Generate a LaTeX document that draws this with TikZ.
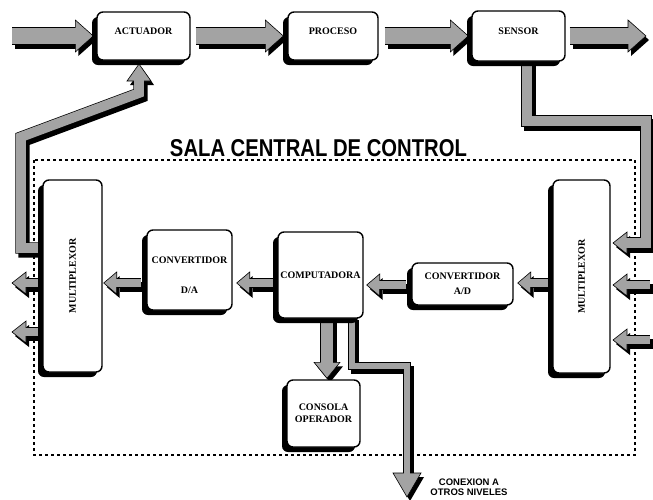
\documentclass[tikz,border=0pt]{standalone}
\usepackage{graphicx}
\usepackage{fontspec}
\setmainfont{Liberation Serif}
\setsansfont{Liberation Sans}
\usetikzlibrary{calc,shadows,backgrounds}

\definecolor{bandgray}{gray}{0.64}

\tikzset{
  box/.style={draw=black, line width=1.4pt, fill=white, rounded corners=6pt,
    font=\bfseries\fontsize{10}{12}\selectfont, align=center, inner sep=1pt,
    drop shadow={shadow xshift=-5pt, shadow yshift=-5pt, fill=black, opacity=1}},
  frame/.style={line width=1.6pt, dash pattern=on 3pt off 3pt},
  bandline/.style={line join=miter, line cap=butt},
}

% fat hatched arrow: #1 band half width, #2 head half width, #3 head length,
% #4 path up to the last bend, #5 name of that last point, #6 tip
\newcommand\fatarrow[6]{%
  \coordinate (fa-h) at ($(#6)!#3!(#5)$);
  \coordinate (fa-l) at ($(fa-h)!#2!90:(#6)$);
  \coordinate (fa-r) at ($(fa-h)!#2!-90:(#6)$);
  \coordinate (fa-g) at ($(fa-h)!0.8pt!(#6)$);
  \begin{scope}[transform canvas={shift={(3pt,-4pt)}}]
    \draw[bandline, line width=2*#1+1.2pt] #4 -- (fa-h);
    \fill (fa-l) -- (#6) -- (fa-r) -- cycle;
  \end{scope}
  \draw[bandline, line width=2*#1+1.2pt] #4 -- (fa-h);
  \filldraw[fill=bandgray, draw=black, line width=0.6pt, line join=miter]
    (fa-l) -- (#6) -- (fa-r) -- cycle;
  \draw[bandline, bandgray, line width=2*#1-0.2pt] #4 -- (fa-g);
}

\begin{document}
\begin{tikzpicture}[x=1pt,y=-1pt]
\useasboundingbox (0,0) rectangle (653,499);

% process line
\node[box, minimum width=93pt, minimum height=48pt] (actuador) at (143.5,36)
  {ACTUADOR\rule[-9pt]{0pt}{9pt}};
\node[box, minimum width=90pt, minimum height=48pt] (proceso) at (333,36)
  {PROCESO\rule[-9pt]{0pt}{9pt}};
\node[box, minimum width=93pt, minimum height=50pt] (sensor) at (518.5,36)
  {SENSOR\rule[-9pt]{0pt}{9pt}};

% control room
\node[box, minimum width=59pt, minimum height=192pt] (muxL) at (72.5,276)
  {\rotatebox{90}{MULTIPLEXOR}};
\node[box, minimum width=57pt, minimum height=193pt] (muxR) at (581.5,276.5)
  {\rotatebox{90}{MULTIPLEXOR}};
\node[box, minimum width=85pt, minimum height=80pt] (cda) at (189.5,270)
  {\rule{0pt}{17pt}CONVERTIDOR\\[18pt]D/A};
\node[box, minimum width=85pt, minimum height=86pt] (comp) at (320.5,275)
  {COMPUTADORA};
\node[box, minimum width=101pt, minimum height=42pt] (cad) at (462.5,284)
  {CONVERTIDOR\\[3pt]A/D};
\node[box, minimum width=73pt, minimum height=67pt] (consola) at (323.5,413.5)
  {\fontsize{10}{13}\selectfont CONSOLA\\OPERADOR};

\node[font=\sffamily\bfseries, inner sep=0pt] (title) at (318.5,148.5)
  {\resizebox{297pt}{17pt}{SALA CENTRAL DE CONTROL}};
\node[font=\sffamily\bfseries\fontsize{9.5}{10}\selectfont, align=center, inner sep=0pt]
  (cxtext) at (469,487) {CONEXION A\\OTROS NIVELES};

\begin{scope}[on background layer]
  \fill[white] (0,0) rectangle (653,499);
  \draw[frame] (34,160) rectangle (635,455);

  % top line
  \coordinate (inA) at (12,36);
  \coordinate (aT) at ([xshift=-3pt]actuador.west);
  \fatarrow{8pt}{16pt}{18pt}{(inA)}{inA}{aT}
  \coordinate (a2s) at ([xshift=5pt]actuador.east);
  \coordinate (a2t) at ([xshift=-4pt]proceso.west);
  \fatarrow{8pt}{16pt}{18pt}{(a2s)}{a2s}{a2t}
  \coordinate (p2s) at ([xshift=6pt]proceso.east);
  \coordinate (p2t) at ([xshift=-3pt]sensor.west);
  \fatarrow{8pt}{16pt}{18pt}{(p2s)}{p2s}{p2t}
  \coordinate (s2s) at ([xshift=4pt]sensor.east);
  \coordinate (s2t) at (646,36);
  \fatarrow{8pt}{16pt}{18pt}{(s2s)}{s2s}{s2t}

  % sensor signal down to the right multiplexer
  \coordinate (sp1) at ([xshift=8.5pt]sensor.south);
  \coordinate (sp2) at (527,121);
  \coordinate (sp3) at (646,121);
  \coordinate (sp4) at (646,243);
  \coordinate (spT) at (613,243);
  \fatarrow{5pt}{11pt}{14pt}{(sp1) -- (sp2) -- (sp3) -- (sp4)}{sp4}{spT}

  % left multiplexer up to the actuator
  \coordinate (lp1) at (42,248);
  \coordinate (lp2) at (21,248);
  \coordinate (lp3) at (21,137);
  \coordinate (lp4) at (139,93);
  \coordinate (lpT) at (139,64);
  \fatarrow{5pt}{12pt}{17pt}{(lp1) -- (lp2) -- (lp3) -- (lp4)}{lp4}{lpT}

  % left multiplexer outputs
  \coordinate (lo1s) at (42,283);  \coordinate (lo1t) at (12,283);
  \fatarrow{4.5pt}{11pt}{14pt}{(lo1s)}{lo1s}{lo1t}
  \coordinate (lo2s) at (42,332);  \coordinate (lo2t) at (12,332);
  \fatarrow{4.5pt}{11pt}{14pt}{(lo2s)}{lo2s}{lo2t}

  % data path through the control room
  \coordinate (r1) at (0,283);
  \coordinate (r2) at (0,285);
  \coordinate (daS) at ([xshift=-5pt]cda.west |- r1);
  \coordinate (daT) at ([xshift=1pt]muxL.east |- r1);
  \fatarrow{4.5pt}{11pt}{13pt}{(daS)}{daS}{daT}
  \coordinate (cpS) at ([xshift=-3pt]comp.west |- r1);
  \coordinate (cpT) at ([xshift=4pt]cda.east |- r1);
  \fatarrow{4.5pt}{11pt}{13pt}{(cpS)}{cpS}{cpT}
  \coordinate (adS) at ([xshift=-5pt]cad.west |- r2);
  \coordinate (adT) at ([xshift=3pt]comp.east |- r2);
  \fatarrow{4.5pt}{11pt}{13pt}{(adS)}{adS}{adT}
  \coordinate (mrS) at ([xshift=-3pt]muxR.west |- r1);
  \coordinate (mrT) at ([xshift=4pt]cad.east |- r1);
  \fatarrow{4.5pt}{11pt}{13pt}{(mrS)}{mrS}{mrT}

  % right multiplexer inputs
  \coordinate (ri1s) at (650,285);  \coordinate (ri1t) at (613,285);
  \fatarrow{4.5pt}{11pt}{14pt}{(ri1s)}{ri1s}{ri1t}
  \coordinate (ri2s) at (650,340);  \coordinate (ri2t) at (613,340);
  \fatarrow{4.5pt}{11pt}{14pt}{(ri2s)}{ri2s}{ri2t}

  % computer to console and to other levels
  \coordinate (csS) at (327,316);
  \coordinate (csT) at ([xshift=3.5pt,yshift=1pt]consola.north);
  \fatarrow{6pt}{13pt}{16pt}{(csS)}{csS}{csT}
  \coordinate (cx1) at (352,316);
  \coordinate (cx2) at (352,366);
  \coordinate (cx3) at (407,366);
  \coordinate (cxT) at (407,497);
  \fatarrow{3.5pt}{14pt}{24pt}{(cx1) -- (cx2) -- (cx3)}{cx3}{cxT}
\end{scope}
\end{tikzpicture}
\end{document}
